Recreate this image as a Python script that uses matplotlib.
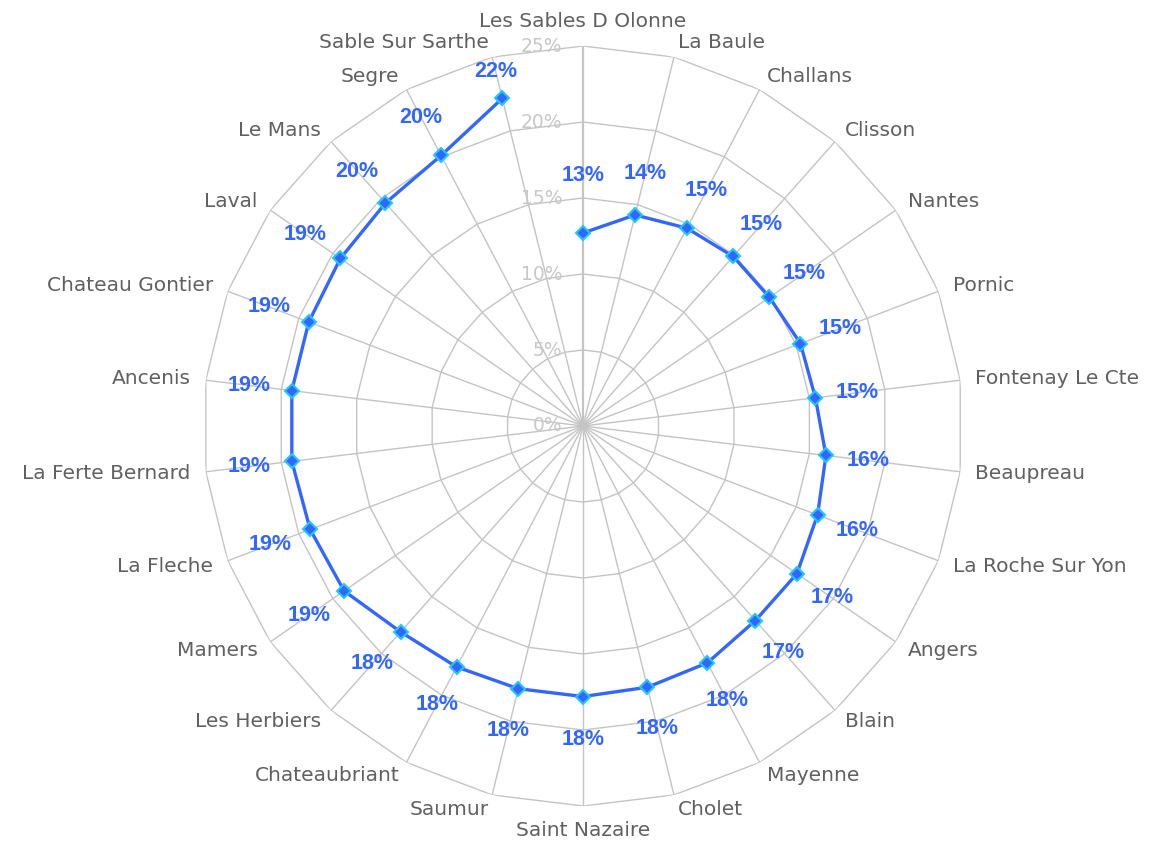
import numpy as np
import matplotlib.pyplot as plt

# --- data ---
cities = ["Les Sables D Olonne", "La Baule", "Challans", "Clisson", "Nantes",
          "Pornic", "Fontenay Le Cte", "Beaupreau", "La Roche Sur Yon", "Angers",
          "Blain", "Mayenne", "Cholet", "Saint Nazaire", "Saumur",
          "Chateaubriant", "Les Herbiers", "Mamers", "La Fleche",
          "La Ferte Bernard", "Ancenis", "Chateau Gontier", "Laval", "Le Mans",
          "Segre", "Sable Sur Sarthe"]
values = [12.7, 14.3, 14.7, 14.9, 14.9, 15.3, 15.4, 16.1, 16.5, 17.1,
          17.1, 17.6, 17.7, 17.8, 17.8, 17.9, 18.1, 19.1, 19.2, 19.3,
          19.3, 19.3, 19.4, 19.6, 20.1, 22.2]
rings = [0, 5, 10, 15, 20, 25]

blue = "#3366ff"
grid_c = "#c4c4c4"

n = len(cities)
theta = np.arange(n) * 2 * np.pi / n

fig = plt.figure(figsize=(11.69, 8.47), dpi=100)
ax = fig.add_axes([0.1737, 0.0484, 0.6501, 0.8973], projection="polar")
ax.set_theta_zero_location("N")
ax.set_theta_direction(-1)
ax.set_ylim(0, 25)
ax.axis("off")

# polygon grid
closed = np.append(theta, theta[0])
for r in rings[1:]:
    ax.plot(closed, [r] * (n + 1), color=grid_c, lw=1.0, zorder=1)
for i, t in enumerate(theta):
    ax.plot([t, t], [0, 25], color=grid_c, lw=1.6 if i == 0 else 1.0, zorder=1)

# ring labels
for r in rings:
    ax.annotate(f"{r}%", xy=(0, r), xytext=(-15, 0), textcoords="offset points",
                ha="right", va="center", fontsize=13.5, color="#c8c8c8", zorder=2)

# category labels
for t, name in zip(theta, cities):
    s, c = np.sin(t), np.cos(t)
    if abs(s) < 1e-6:
        ha = "center"
    elif s > 0:
        ha = "left"
    else:
        ha = "right"
    if abs(s) < 1e-6:
        va = "bottom" if c > 0 else "top"
    else:
        va = "center"
    off = 11
    ax.annotate(name, xy=(t, 25), xytext=(off * s, off * c), textcoords="offset points",
                ha=ha, va=va, fontsize=14.5, color="#606060")

# series (not closed)
ax.plot(theta, values, color=blue, lw=2.4, marker="D", markersize=7.5,
        markerfacecolor=blue, markeredgecolor="#22c8f5", markeredgewidth=1.5, zorder=3)

# value labels pushed outward, kept inside the outer ring
for t, v in zip(theta, values):
    lab_r = min(v + 2.8, 24.0)
    if v < 13:
        lab_r = v + 3.8
    ax.annotate(f"{v:.0f}%", xy=(t, v), xytext=(t, lab_r), textcoords="data",
                ha="center", va="center",
                fontsize=15.5, fontweight="bold", family="Liberation Sans",
                color=blue, zorder=4)

fig.savefig("out.png", dpi=100)
